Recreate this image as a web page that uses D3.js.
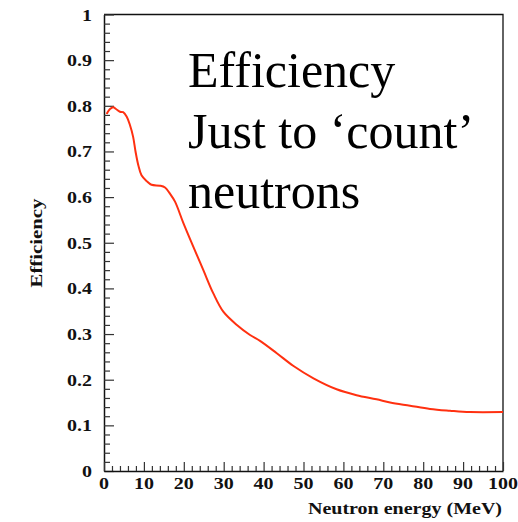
<!DOCTYPE html>
<html>
<head>
<meta charset="utf-8">
<script src="https://cdn.jsdelivr.net/npm/d3@7"></script>
<style>
  html, body { margin: 0; padding: 0; background: #fff; }
  svg { display: block; }
  .tick-label { font-family: "Liberation Serif", "Times New Roman", serif; font-weight: bold; font-size: 16px; fill: #111; }
  .axis-title { font-family: "Liberation Serif", "Times New Roman", serif; font-weight: bold; font-size: 16px; fill: #111; }
  .note { font-family: "Liberation Serif", "Times New Roman", serif; font-size: 50px; fill: #000; }
</style>
</head>
<body>
<div id="chart"></div>
<script>
// --- efficiency vs neutron energy -------------------------------------------

// curve (MeV, efficiency)
const energy = [0.7, 0.9, 1.5, 2.3, 3, 4, 4.8, 5.7, 6.5, 7.3, 7.9, 8.6, 9.4, 10.7,
  11.9, 14, 15.3, 16.5, 17.8, 19.9, 22.4, 24.9, 27.4, 29.9, 33.3, 36.6, 39.1,
  43.3, 47.5, 52.5, 58.3, 63.3, 68.3, 71.7, 76.7, 81.7, 86.7, 91.7, 100];
const efficiency = [0.782, 0.786, 0.793, 0.797, 0.793, 0.787, 0.786, 0.776, 0.758,
  0.732, 0.700, 0.670, 0.648, 0.635, 0.627, 0.625, 0.621, 0.608, 0.590, 0.543,
  0.491, 0.440, 0.389, 0.349, 0.320, 0.298, 0.285, 0.258, 0.230, 0.203, 0.179,
  0.166, 0.157, 0.150, 0.143, 0.136, 0.132, 0.129, 0.129];

const xTicks = [0, 10, 20, 30, 40, 50, 60, 70, 80, 90, 100];
const yTicks = [0, 0.1, 0.2, 0.3, 0.4, 0.5, 0.6, 0.7, 0.8, 0.9, 1];
const noteLines = ['Efficiency', 'Just to \u2018count\u2019', 'neutrons'];

const W = 518, H = 522;
const X0 = 104, X1 = 503, Y0 = 471, Y1 = 14.5;
const STRETCH = 1.25;   // the axis fonts in the picture are drawn wide

const x = d3.scaleLinear().domain([0, 100]).range([X0, X1]);
const y = d3.scaleLinear().domain([0, 1]).range([Y0, Y1]);

const svg = d3.select('#chart').append('svg')
  .attr('width', W).attr('height', H)
  .attr('viewBox', `0 0 ${W} ${H}`);

// frame (top + right lines)
svg.append('path')
  .attr('d', `M${X0},${Y1}H${X1}V${Y0}`)
  .attr('fill', 'none').attr('stroke', '#111').attr('stroke-width', 1.3);

// axes, ticks pointing inward
const yAxis = d3.axisRight(y)
  .tickValues(d3.range(0, 1.0001, 0.02))
  .tickSize(6).tickSizeOuter(0).tickFormat('');
const gy = svg.append('g').attr('transform', `translate(${X0},0)`).call(yAxis);
gy.selectAll('.tick line')
  .attr('x2', d => Math.abs(d * 10 - Math.round(d * 10)) < 1e-6 ? 10 : 6);

const xAxis = d3.axisTop(x)
  .tickValues(d3.range(0, 100.001, 2))
  .tickSize(5).tickSizeOuter(0).tickFormat('');
const gx = svg.append('g').attr('transform', `translate(0,${Y0})`).call(xAxis);
gx.selectAll('.tick line')
  .attr('y2', d => d % 10 === 0 ? -9 : -5);

[gx, gy].forEach(g => {
  g.selectAll('.domain').attr('stroke', '#111').attr('stroke-width', 1.5);
  g.selectAll('.tick line').attr('stroke', '#333').attr('stroke-width', 1.2);
});

// tick labels
svg.append('g').selectAll('text')
  .data(yTicks)
  .join('text')
    .attr('class', 'tick-label')
    .attr('text-anchor', 'end')
    .attr('transform', d => `translate(92,${y(d) + 6}) scale(${STRETCH},1)`)
    .text(d => d3.format('~g')(d));

svg.append('g').selectAll('text')
  .data(xTicks)
  .join('text')
    .attr('class', 'tick-label')
    .attr('text-anchor', 'middle')
    .attr('transform', d => `translate(${x(d)},489) scale(${STRETCH},1)`)
    .text(d => d);

// axis titles
svg.append('text')
  .attr('class', 'axis-title')
  .attr('text-anchor', 'end')
  .attr('transform', `translate(502,514) scale(${STRETCH},1)`)
  .text('Neutron energy (MeV)');

svg.append('text')
  .attr('class', 'axis-title')
  .attr('text-anchor', 'middle')
  .attr('transform', `translate(42,243) rotate(-90) scale(1.3,1)`)
  .text('Efficiency');

// the curve
const line = d3.line()
  .x(d => x(d[0]))
  .y(d => y(d[1]))
  .curve(d3.curveCatmullRom.alpha(0.5));

svg.append('path')
  .datum(d3.zip(energy, efficiency))
  .attr('d', line)
  .attr('fill', 'none')
  .attr('stroke', '#ff3010')
  .attr('stroke-width', 2);

// big annotation
svg.append('g').selectAll('text')
  .data(noteLines)
  .join('text')
    .attr('class', 'note')
    .attr('x', 188)
    .attr('y', (_, i) => 87 + i * 60.5)
    .text(d => d);
</script>
</body>
</html>
